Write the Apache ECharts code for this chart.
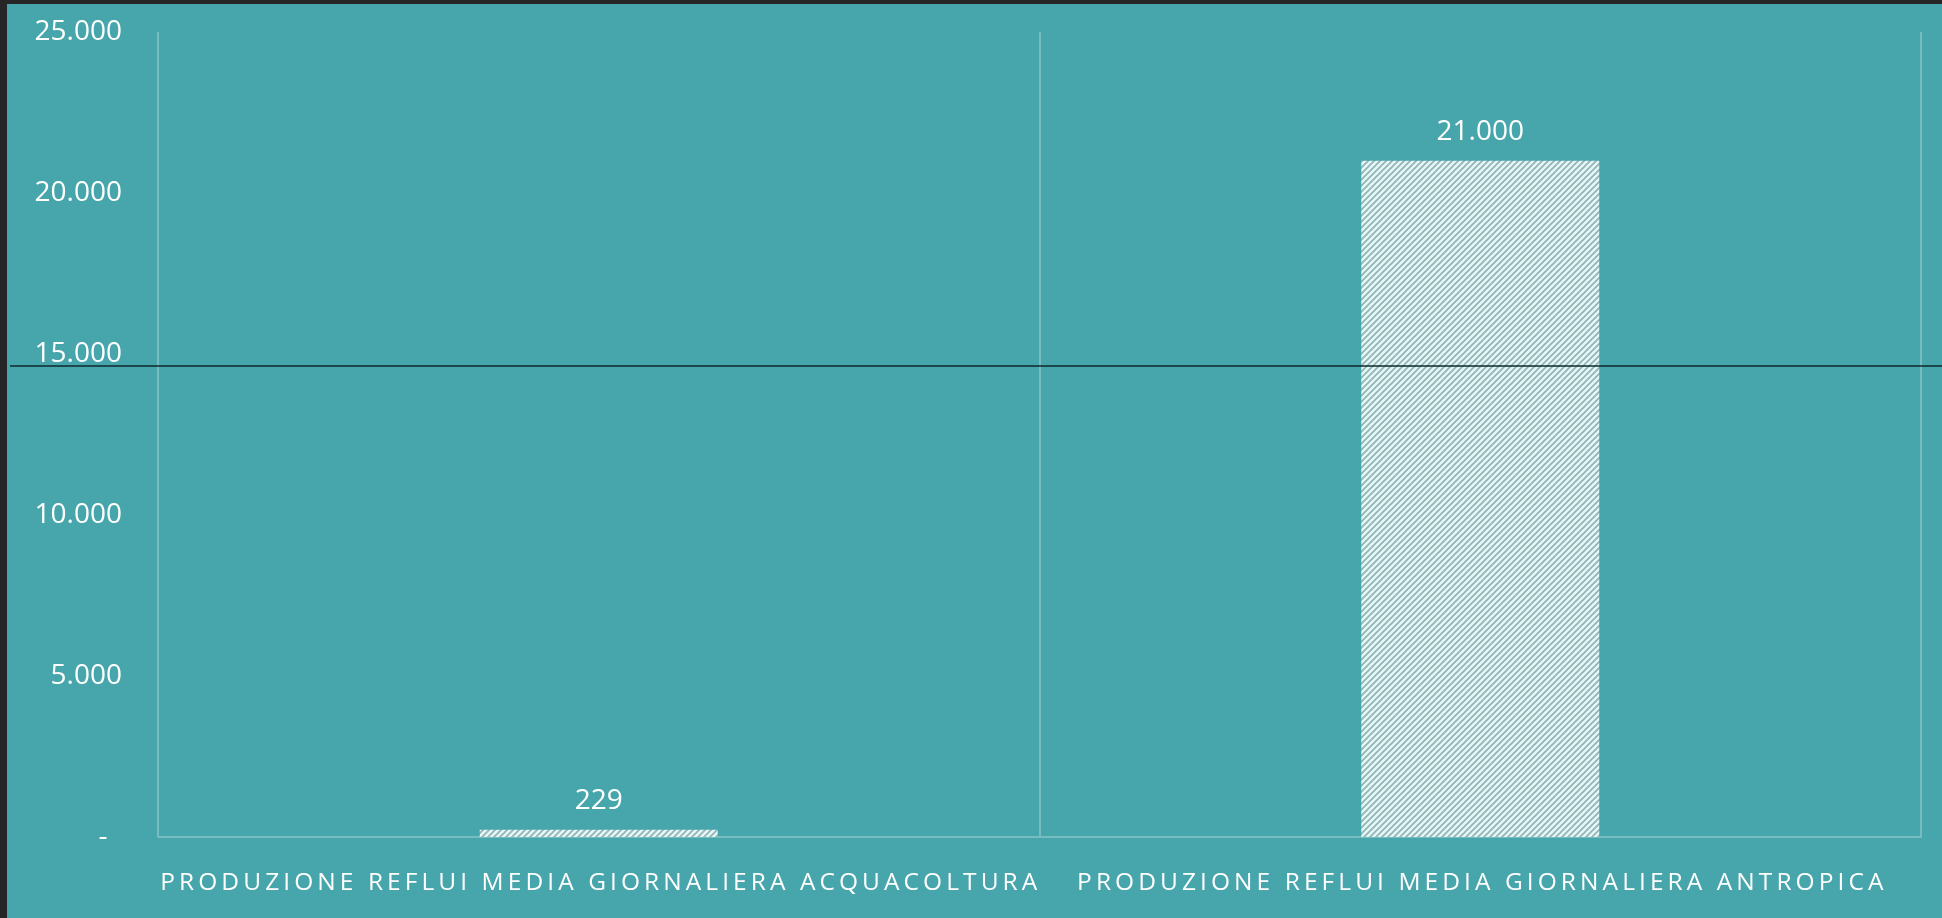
<!DOCTYPE html>
<html>
<head>
<meta charset="utf-8">
<script src="https://cdn.jsdelivr.net/npm/echarts@6/dist/echarts.min.js"></script>
<style>
  html, body { margin: 0; padding: 0; background: #262626; }
  #chart {
    position: absolute; left: 0; top: 0;
    width: 1935px; height: 914px;
    border-left: 7px solid #262626;
    border-top: 4px solid #262626;
  }
</style>
</head>
<body>
<div id="chart"></div>
<script>
// categorie e valori
var categories = ['PRODUZIONE REFLUI MEDIA GIORNALIERA ACQUACOLTURA', 'PRODUZIONE REFLUI MEDIA GIORNALIERA ANTROPICA']
var values = [229, 21000]
var yTicks = [0, 5000, 10000, 15000, 20000, 25000]

// numero in formato italiano, lo zero come trattino
function fmt(v) {
  if (v === 0) return '-  '
  return String(v).replace(/\B(?=(\d{3})+(?!\d))/g, '.')
}

// tratteggio delle barre
function hatch() {
  var c = document.createElement('canvas')
  c.width = 6
  c.height = 6
  var ctx = c.getContext('2d')
  ctx.fillStyle = '#e6f6f6'
  ctx.fillRect(0, 0, 6, 6)
  ctx.strokeStyle = '#8fb2b4'
  ctx.lineWidth = 1.6
  ctx.beginPath()
  ctx.moveTo(0, 6); ctx.lineTo(6, 0)
  ctx.moveTo(-3, 3); ctx.lineTo(3, -3)
  ctx.moveTo(3, 9); ctx.lineTo(9, 3)
  ctx.stroke()
  return c
}

var chart = echarts.init(document.getElementById('chart'))
var font = '"Open Sans", "Noto Sans", sans-serif'

chart.setOption({
  backgroundColor: '#47a5ac',
  animation: false,
  grid: { left: 151, right: 21, top: 28, bottom: 81 },
  xAxis: {
    type: 'category',
    data: categories,
    axisLine: { lineStyle: { color: '#86c4c8', width: 1.5 } },
    axisTick: { show: false },
    splitLine: { show: true, lineStyle: { color: '#86c4c8', width: 1.5 } },
    axisLabel: {
      interval: 0,
      color: '#ffffff',
      fontFamily: font,
      fontSize: 24.5,
      margin: 34,
      formatter: function (v) { return v.split('').join('\u2009') }
    }
  },
  yAxis: {
    type: 'value',
    min: yTicks[0],
    max: yTicks[yTicks.length - 1],
    interval: yTicks[1] - yTicks[0],
    axisLine: { show: false },
    axisTick: { show: false },
    splitLine: { show: false },
    axisLabel: {
      color: '#ffffff',
      fontFamily: font,
      fontSize: 28,
      margin: 36,
      formatter: fmt
    }
  },
  series: [{
    type: 'bar',
    data: values,
    barWidth: '27%',
    itemStyle: { color: { image: hatch(), repeat: 'repeat' } },
    label: {
      show: true,
      position: 'top',
      distance: 15,
      color: '#ffffff',
      fontFamily: font,
      fontSize: 28,
      formatter: function (p) { return fmt(p.value) }
    }
  }],
  graphic: [{
    type: 'line',
    shape: { x1: 3, y1: 362, x2: 1935, y2: 362 },
    style: { stroke: '#0e2a2d', lineWidth: 1.5 },
    z: 10
  }]
})
</script>
</body>
</html>
